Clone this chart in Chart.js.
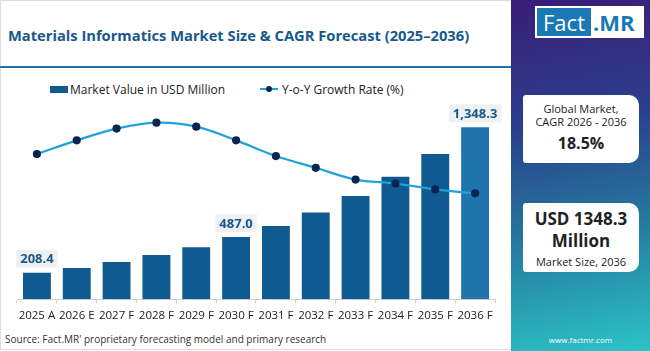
<!DOCTYPE html>
<html>
<head>
<meta charset="utf-8">
<script src="https://cdn.jsdelivr.net/npm/chart.js@4"></script>
<style>
  body { margin: 0; width: 650px; height: 351px; overflow: hidden; background: #fff; font-family: 'Open Sans', sans-serif; }
  #wrap { position: relative; width: 650px; height: 351px; }
  #left { position: absolute; left: 0; top: 0; width: 511px; height: 350px; border: 1px solid #dcdcdc; border-right: none; box-sizing: border-box; }
  #title { position: absolute; left: 8px; top: 25px; font-size: 14.7px; font-weight: 700; color: #17598c; white-space: nowrap; }
  #rule { position: absolute; left: 0; top: 66px; width: 512px; height: 2px; background: #1f6fa8; }
  .leg { position: absolute; top: 81px; font-size: 12px; color: #222; white-space: nowrap; }
  #legBar { position: absolute; left: 50px; top: 86px; width: 18px; height: 7px; background: #0f5a91; }
  #legLine { position: absolute; left: 260px; top: 88px; width: 18px; height: 2px; background: #1fa3d9; }
  #legDot { position: absolute; left: 266px; top: 86px; width: 6px; height: 6px; border-radius: 3px; background: #0a2550; }
  #chartBox { position: absolute; left: 0; top: 95px; width: 512px; height: 234px; }
  #source { position: absolute; left: 5px; top: 332px; font-size: 10px; color: #333; white-space: nowrap; }
  #panel { position: absolute; left: 511px; top: 0; width: 139px; height: 351px; background: linear-gradient(170deg, #3a1c78 0%, #2b3f8c 35%, #25799f 65%, #2cc4c6 100%); }
  #logo { position: absolute; left: 24px; top: 6px; width: 109px; height: 32px; background: #fff; }
  #logoFact { position: absolute; left: 2px; top: 2px; width: 54px; height: 28px; background: #1a78b5; color: #fff; font-size: 22px; line-height: 28px; text-align: center; }
  #logoMR { position: absolute; left: 58px; top: 2px; color: #1a78b5; font-size: 22px; line-height: 28px; font-weight: 700; }
  .card { position: absolute; left: 12px; width: 116px; background: #fff; border-radius: 3px 10px 10px 3px; text-align: center; color: #222; }
  #card1 { top: 95px; height: 68px; }
  #card2 { top: 203px; height: 69px; }
  #web { position: absolute; left: 0; width: 139px; top: 334px; text-align: center; color: #fff; font-size: 8px; }
</style>
</head>
<body>
<div id="wrap">
  <div id="left"></div>
  <div id="title">Materials Informatics Market Size &amp; CAGR Forecast (2025–2036)</div>
  <div id="rule"></div>
  <div id="legBar"></div>
  <div class="leg" style="left:70px">Market Value in USD Million</div>
  <div id="legLine"></div>
  <div id="legDot"></div>
  <div class="leg" style="left:282px">Y-o-Y Growth Rate (%)</div>
  <div id="chartBox"><canvas id="chart"></canvas></div>
  <div id="source">Source: Fact.MR' proprietary forecasting model and primary research</div>
  <div id="panel">
    <div id="logo"><div id="logoFact">Fact</div><div id="logoMR">.MR</div></div>
    <div class="card" id="card1">
      <div style="font-size:11px;margin-top:7px;line-height:13px">Global Market,<br>CAGR 2026 - 2036</div>
      <div style="font-size:16px;font-weight:700;margin-top:4px">18.5%</div>
    </div>
    <div class="card" id="card2">
      <div style="font-size:17px;font-weight:700;margin-top:5px;line-height:22px">USD 1348.3<br>Million</div>
      <div style="font-size:11px;margin-top:2px">Market Size, 2036</div>
    </div>
    <div id="web">www.factmr.com</div>
  </div>
</div>
<script>
const years = ['2025 A', '2026 E', '2027 F', '2028 F', '2029 F', '2030 F', '2031 F', '2032 F', '2033 F', '2034 F', '2035 F', '2036 F'];
const marketValue = [208.4, 244.5, 291, 346, 408, 487.0, 575, 681, 809, 960, 1140, 1348.3];
const growthRate = [17.4, 18.1, 18.7, 19.0, 18.8, 18.1, 17.3, 16.7, 16.1, 15.9, 15.6, 15.4];
const labelledBars = [0, 5, 11];
const barColors = years.map((y, i) => i === years.length - 1 ? '#1f74ad' : '#0f5a91');

const barLabels = {
    id: 'barLabels',
    afterDatasetsDraw(chart) {
        const ctx = chart.ctx;
        const meta = chart.getDatasetMeta(1);
        ctx.save();
        ctx.font = 'bold 13px "Open Sans"';
        ctx.textAlign = 'center';
        ctx.textBaseline = 'middle';
        labelledBars.forEach((i) => {
            const bar = meta.data[i];
            const v = marketValue[i];
            const txt = v >= 1000 ? v.toLocaleString('en-US', { minimumFractionDigits: 1 }) : v.toFixed(1);
            const w = ctx.measureText(txt).width + 8;
            const cy = bar.y - 14;
            ctx.fillStyle = '#eef0f2';
            ctx.fillRect(bar.x - w / 2, cy - 9, w, 18);
            ctx.fillStyle = '#17598c';
            ctx.fillText(txt, bar.x, cy + 1);
        });
        ctx.restore();
    },
};

new Chart('chart', {
    data: {
        labels: years,
        datasets: [
            {
                type: 'line',
                label: 'Y-o-Y Growth Rate (%)',
                data: growthRate,
                yAxisID: 'y1',
                borderColor: '#1fa3d9',
                borderWidth: 2.2,
                pointBackgroundColor: '#0a2550',
                pointBorderColor: '#0a2550',
                pointRadius: 3,
                tension: 0.35,
                order: 0,
            },
            {
                type: 'bar',
                label: 'Market Value in USD Million',
                data: marketValue,
                yAxisID: 'y',
                backgroundColor: barColors,
                barPercentage: 0.7,
                categoryPercentage: 1,
                order: 1,
            },
        ],
    },
    plugins: [barLabels],
    options: {
        responsive: true,
        maintainAspectRatio: false,
        animation: false,
        layout: { padding: { left: 17, right: 17, top: 13, bottom: 0 } },
        plugins: { legend: { display: false }, tooltip: { enabled: false } },
        scales: {
            x: {
                grid: { display: true, drawOnChartArea: false, color: '#d0d0d0', tickLength: 4, offset: true },
                border: { color: '#d0d0d0' },
                ticks: { color: '#222', font: { family: 'Open Sans', size: 11.5 }, padding: 6, maxRotation: 0, autoSkip: false },
            },
            y: { display: false, min: 0, max: 1500 },
            y1: { display: false, min: 10, max: 19.75 },
        },
    },
});
</script>
</body>
</html>
